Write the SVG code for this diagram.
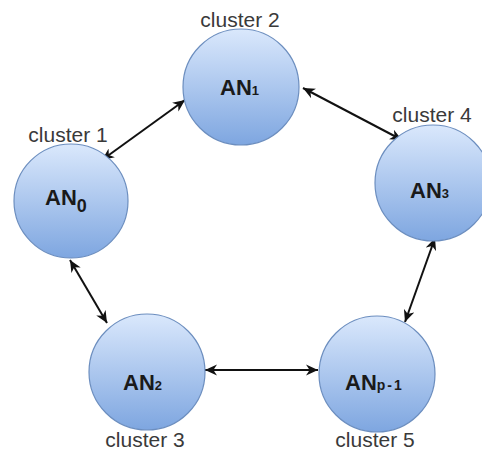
<svg xmlns="http://www.w3.org/2000/svg" width="482" height="454" viewBox="0 0 482 454">
<defs>
<linearGradient id="g" x1="0" y1="0" x2="0" y2="1">
<stop offset="0" stop-color="#dae8fc"/>
<stop offset="1" stop-color="#7ea6e0"/>
</linearGradient>
<marker id="ah" viewBox="0 0 10 10" refX="10" refY="5" markerUnits="userSpaceOnUse" markerWidth="12" markerHeight="12" orient="auto-start-reverse">
<path d="M0,0.5 L10,5 L0,9.5 L3,5 z" fill="#111"/>
</marker>
</defs>
<style>
.n{fill:url(#g);stroke:#6c8ebf;stroke-width:1.2}
.c{font-family:"Liberation Sans",Arial,sans-serif;font-size:21px;fill:#3a3a3a}
.t{font-family:"Liberation Sans",Arial,sans-serif;font-size:22px;font-weight:bold;fill:#1a1a1a}
.s{font-size:13px}
.e{stroke:#111;stroke-width:2;fill:none;marker-start:url(#ah);marker-end:url(#ah)}
</style>
<rect width="482" height="454" fill="#fff"/>
<g id="edges">
<line class="e" x1="102" y1="160" x2="185" y2="100"/>
<line class="e" x1="303" y1="88" x2="402" y2="140"/>
<line class="e" x1="70" y1="260" x2="107" y2="323"/>
<line class="e" x1="435" y1="238" x2="405" y2="322"/>
<line class="e" x1="205" y1="370" x2="318" y2="370"/>
</g>
<g id="an0">
<circle class="n" cx="71" cy="201" r="57"/>
<text class="c" x="68" y="142" text-anchor="middle">cluster 1</text>
<text class="t" x="45" y="205">AN<tspan font-size="18" dy="7">0</tspan></text>
</g>
<g id="an1">
<circle class="n" cx="241" cy="87" r="58"/>
<text class="c" x="240" y="27" text-anchor="middle">cluster 2</text>
<text class="t" x="220" y="95">AN<tspan class="s">1</tspan></text>
</g>
<g id="an3">
<circle class="n" cx="433" cy="183" r="58"/>
<text class="c" x="432" y="122" text-anchor="middle">cluster 4</text>
<text class="t" x="410" y="198">AN<tspan class="s">3</tspan></text>
</g>
<g id="an2">
<circle class="n" cx="147" cy="372" r="58"/>
<text class="c" x="145" y="447" text-anchor="middle">cluster 3</text>
<text class="t" x="123" y="390">AN<tspan class="s">2</tspan></text>
</g>
<g id="anp1">
<circle class="n" cx="377" cy="374" r="58"/>
<text class="c" x="375" y="447" text-anchor="middle">cluster 5</text>
<text class="t" x="345" y="390">AN<tspan font-size="14" letter-spacing="2">p-1</tspan></text>
</g>
</svg>
